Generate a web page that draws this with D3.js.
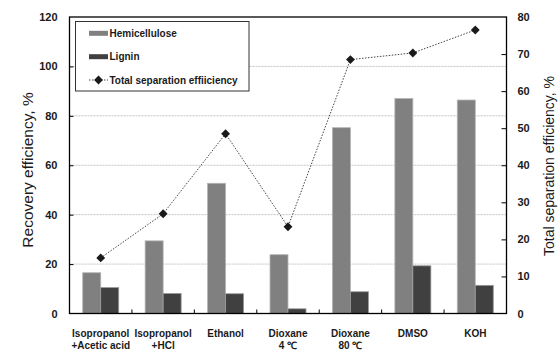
<!DOCTYPE html>
<html><head><meta charset="utf-8">
<script src="https://cdn.jsdelivr.net/npm/d3@7"></script>
<style>body{margin:0;background:#fff}svg{display:block}</style>
</head><body>
<script>
const categories = [["Isopropanol","+Acetic acid"],["Isopropanol","+HCl"],["Ethanol"],["Dioxane","4 \u2103"],["Dioxane","80 \u2103"],["DMSO"],["KOH"]];
const hemicellulose = [16.5, 29.4, 52.7, 23.8, 75.2, 87.0, 86.4];
const lignin = [10.5, 8.1, 8.0, 1.9, 8.8, 19.3, 11.4];
const totalSeparation = [15.0, 26.9, 48.5, 23.4, 68.5, 70.3, 76.5];
const leftTicks = [0, 20, 40, 60, 80, 100, 120];
const rightTicks = [0, 10, 20, 30, 40, 50, 60, 70, 80];
const legendItems = ["Hemicellulose", "Lignin", "Total separation effiiciency"];

const W = 559, H = 353;
const L = 69.5, R = 506.5, T = 17, B = 313.5;
const font = "'Liberation Sans', Arial, sans-serif";
const boldFont = "'Liberation Sans', Arial, sans-serif";
const txt = "#1a1a1a";

const svg = d3.select("body").append("svg").attr("width", W).attr("height", H);

const x = d3.scaleBand().domain(d3.range(categories.length)).range([L, R]).paddingInner(0).paddingOuter(0);
const sub = d3.scaleBand().domain([0, 1]).range([0, 36]);
const yL = d3.scaleLinear().domain([0, 120]).range([B, T]);
const yR = d3.scaleLinear().domain([0, 80]).range([B, T]);

// gridlines
svg.append("g").selectAll("line").data(leftTicks.filter(d => d > 0 && d < 120)).join("line")
  .attr("x1", L).attr("x2", R).attr("y1", d => yL(d)).attr("y2", d => yL(d))
  .attr("stroke", "#c4c4c4").attr("stroke-width", 1).attr("stroke-dasharray", "2,1");

// bars
const groupOffset = (x.bandwidth() - 36) / 2;
const g = svg.append("g");
g.selectAll("rect.h").data(hemicellulose).join("rect")
  .attr("x", (d, i) => x(i) + groupOffset + sub(0)).attr("width", sub.bandwidth())
  .attr("y", d => yL(d)).attr("height", d => B - yL(d))
  .attr("fill", "#808080").attr("stroke", "#b4b4b4").attr("stroke-width", 0.8);
g.selectAll("rect.l").data(lignin).join("rect")
  .attr("x", (d, i) => x(i) + groupOffset + sub(1)).attr("width", sub.bandwidth())
  .attr("y", d => yL(d)).attr("height", d => B - yL(d))
  .attr("fill", "#404040").attr("stroke", "#9a9a9a").attr("stroke-width", 0.8);

// line
const cx = i => x(i) + groupOffset + 18;
svg.append("path").datum(totalSeparation)
  .attr("d", d3.line().x((d, i) => cx(i)).y(d => yR(d)))
  .attr("fill", "none").attr("stroke", "#444").attr("stroke-width", 1).attr("stroke-dasharray", "1.5,1.5");
const diamond = d3.symbol().type(d3.symbolDiamond2).size(50);
svg.append("g").selectAll("path").data(totalSeparation).join("path")
  .attr("transform", (d, i) => `translate(${cx(i)},${yR(d)})`)
  .attr("d", diamond).attr("fill", "#1a1a1a");

// frame
svg.append("rect").attr("x", L).attr("y", T).attr("width", R - L).attr("height", B - T)
  .attr("fill", "none").attr("stroke", "#000").attr("stroke-width", 1.3);

// axes (ticks point inward)
const axL = svg.append("g").attr("transform", `translate(${L},0)`)
  .call(d3.axisLeft(yL).tickValues(leftTicks).tickSizeInner(-4).tickSizeOuter(0).tickPadding(12));
const axR = svg.append("g").attr("transform", `translate(${R},0)`)
  .call(d3.axisRight(yR).tickValues(rightTicks).tickSizeInner(-5).tickSizeOuter(0).tickPadding(11));
[axL, axR].forEach(a => {
  a.select(".domain").remove();
  a.selectAll("text").attr("font-family", boldFont).attr("font-weight", "bold").attr("font-size", 11).attr("fill", txt);
  a.selectAll("line").attr("stroke", "#000");
});
axL.selectAll(".tick").filter(d => d === 0 || d === 120).select("line").remove();
axR.selectAll(".tick").filter(d => d === 0 || d === 80).select("line").remove();

// category separators
svg.append("g").selectAll("line").data(d3.range(1, categories.length)).join("line")
  .attr("x1", d => x(d)).attr("x2", d => x(d)).attr("y1", B).attr("y2", B - 4)
  .attr("stroke", "#000");

// category labels
const cl = svg.append("g").selectAll("text").data(categories).join("text")
  .attr("x", (d, i) => x(i) + x.bandwidth() / 2).attr("y", 336.5)
  .attr("text-anchor", "middle").attr("font-family", boldFont).attr("font-weight", "bold")
  .attr("font-size", 10).attr("fill", txt);
cl.selectAll("tspan").data(d => d).join("tspan")
  .attr("x", function () { return this.parentNode.getAttribute("x"); })
  .attr("dy", (d, j) => j === 0 ? 0 : 12.7).text(d => d);

// axis titles
svg.append("text").attr("transform", `translate(33,170) rotate(-90)`)
  .attr("text-anchor", "middle").attr("font-family", font).attr("font-size", 15.5).attr("fill", txt)
  .text("Recovery efficiency, %");
svg.append("text").attr("transform", `translate(554,166) rotate(-90)`)
  .attr("text-anchor", "middle").attr("font-family", font).attr("font-size", 14).attr("fill", txt)
  .text("Total separation efficiency, %");

// legend
const lg = svg.append("g");
lg.append("rect").attr("x", 75.5).attr("y", 21.5).attr("width", 173.5).attr("height", 69.5)
  .attr("fill", "#fff").attr("stroke", "#333").attr("stroke-width", 1);
const ly = [33.3, 56.7, 80];
lg.append("rect").attr("x", 89).attr("y", ly[0] - 2.5).attr("width", 19).attr("height", 5).attr("fill", "#808080");
lg.append("rect").attr("x", 89).attr("y", ly[1] - 2.5).attr("width", 19).attr("height", 5).attr("fill", "#404040");
lg.append("line").attr("x1", 89).attr("x2", 108).attr("y1", ly[2]).attr("y2", ly[2])
  .attr("stroke", "#444").attr("stroke-dasharray", "1.5,1.5");
lg.append("path").attr("transform", `translate(98.5,${ly[2]})`).attr("d", diamond).attr("fill", "#1a1a1a");
lg.selectAll("text").data(legendItems).join("text")
  .attr("x", 109.5).attr("y", (d, i) => ly[i] + 3.6)
  .attr("font-family", boldFont).attr("font-weight", "bold").attr("font-size", 10).attr("fill", txt)
  .text(d => d);
</script>
</body></html>
